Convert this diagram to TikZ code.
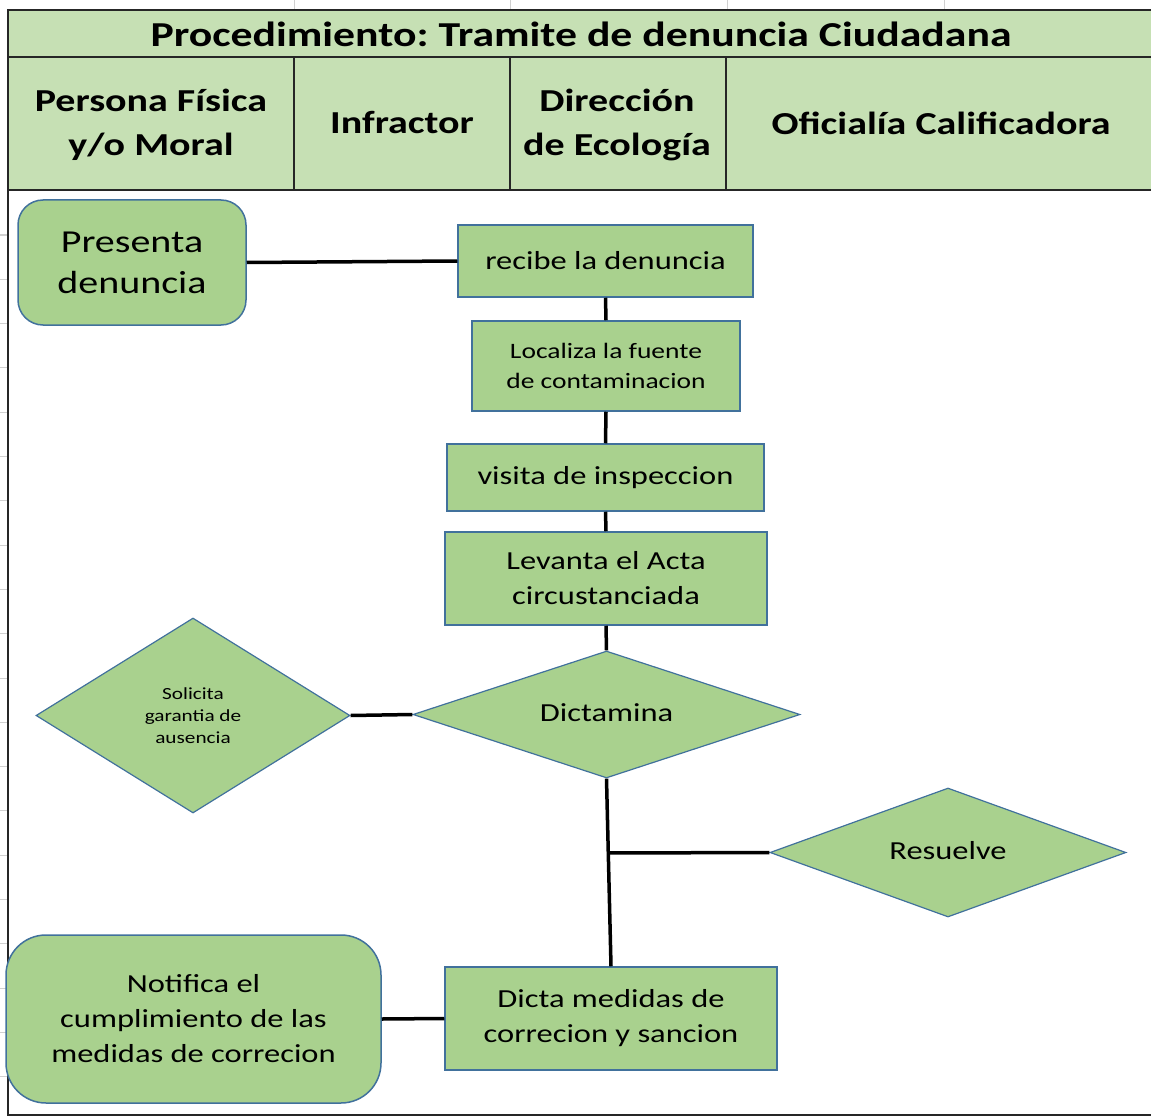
\documentclass[tikz,border=0pt]{standalone}
\usepackage{fontspec}
\setmainfont{Carlito}[FakeStretch=1.25]
\usetikzlibrary{shapes.geometric}
\definecolor{hdr}{HTML}{C6E0B4}
\definecolor{nodefill}{HTML}{A9D18E}
\definecolor{nodeline}{HTML}{41719C}
\definecolor{gridc}{HTML}{D0D0D0}
\frenchspacing
\begin{document}
\begin{tikzpicture}[x=1pt,y=-1pt,
  proc/.style={draw=nodeline, line width=1.5pt, fill=nodefill, align=center, inner sep=0pt, font=\fontsize{26}{35}\selectfont},
  dec/.style={diamond, draw=nodeline, line width=1.2pt, fill=nodefill, align=center, inner sep=0pt, aspect=2, font=\fontsize{26}{35}\selectfont},
  conn/.style={line width=3.5pt, black},
  hdrtext/.style={font=\bfseries\fontsize{32}{44}\selectfont, align=center, inner sep=0pt},
  frame/.style={line width=1.8pt, black!85}
]
\useasboundingbox (0,0) rectangle (1151,1118);
% spreadsheet grid ticks
\foreach \i in {0,...,19} \draw[gridc, line width=1pt] (0,235+44.3*\i) -- (7,235+44.3*\i);
\foreach \x in {294,510,727,944} \draw[gridc, line width=1pt] (\x,0) -- (\x,9);
% header
\fill[hdr] (8,10) rectangle (1151,190);
\draw[frame] (1151,10) -- (8,10) -- (8,1115) -- (1151,1115);
\draw[frame] (8,57) -- (1151,57);
\draw[frame] (8,190) -- (1151,190);
\foreach \x in {294,510,726} \draw[frame] (\x,57) -- (\x,190);
\node[hdrtext, font=\bfseries\fontsize{35}{40}\selectfont] (title) at (581,34) {Procedimiento: Tramite de denuncia Ciudadana};
\node[hdrtext] (h1) at (151,125) {Persona Física\\y/o Moral};
\node[hdrtext] (h2) at (402,123) {Infractor};
\node[hdrtext] (h3) at (617,125) {Dirección\\de Ecología};
\node[hdrtext] (h4) at (941,123) {Oficialía Calificadora};
% nodes
\node[proc, rounded corners=25pt, minimum width=228pt, minimum height=125pt, font=\fontsize{32}{41}\selectfont] (pres) at (132,262.5) {Presenta\\denuncia};
\node[proc, minimum width=295pt, minimum height=72pt] (rec) at (605.5,261) {recibe la denuncia};
\node[proc, minimum width=268pt, minimum height=90pt, font=\fontsize{22}{30}\selectfont] (loc) at (606,366) {Localiza la fuente\\de contaminacion};
\node[proc, minimum width=317pt, minimum height=67pt] (vis) at (605.5,477.5) {visita de inspeccion};
\node[proc, minimum width=322pt, minimum height=93pt] (lev) at (606,578.5) {Levanta el Acta\\circustanciada};
\node[dec, minimum width=387pt, minimum height=127pt] (dict) at (606.5,714.5) {\raisebox{4pt}{Dictamina}};
\node[dec, minimum width=314pt, minimum height=195pt, font=\fontsize{17}{22}\selectfont] (sol) at (193,715.5) {Solicita\\garantia de\\ausencia};
\node[dec, minimum width=356pt, minimum height=129pt] (res) at (948,852.5) {\raisebox{5pt}{Resuelve}};
\node[proc, minimum width=332pt, minimum height=103pt] (dicta) at (611,1018.5) {Dicta medidas de\\correcion y sancion};
\node[proc, rounded corners=40pt, minimum width=375pt, minimum height=168pt] (notif) at (193.5,1019) {Notifica el\\cumplimiento de las\\medidas de correcion};
% connectors
\coordinate (J) at (607,853);
\draw[conn] (pres.east) -- (rec.west);
\draw[conn] (rec.south) -- (loc.north);
\draw[conn] (loc.south) -- (vis.north);
\draw[conn] (vis.south) -- (lev.north);
\draw[conn] (lev.south) -- (dict.north);
\draw[conn] (sol.east) -- (dict.west);
\draw[conn] (dict.south) -- (dicta.north);
\draw[conn] (J) -- (res.west);
\draw[conn] (notif.east) -- (dicta.west);
\end{tikzpicture}
\end{document}
